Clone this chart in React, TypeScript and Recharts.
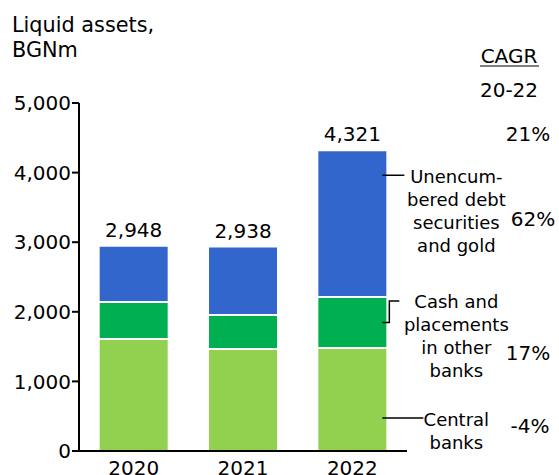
import { BarChart, Bar, XAxis, YAxis, LabelList, Customized } from "recharts";

const YEARS = ["2020", "2021", "2022"];
const CENTRAL_BANKS = [1609, 1466, 1480];
const CASH_PLACEMENTS = [532, 488, 733];
const DEBT_SECURITIES = [807, 984, 2108];
const TOTALS = [2948, 2938, 4321];
const Y_TICKS = [0, 1000, 2000, 3000, 4000, 5000];
const CAGR_LABELS = ["21%", "62%", "17%", "-4%"];
const DEBT_TEXT = ["Unencum-", "bered debt", "securities", "and gold"];
const CASH_TEXT = ["Cash and", "placements", "in other", "banks"];
const CENTRAL_TEXT = ["Central", "banks"];

const FONT = "'DejaVu Sans', Verdana, sans-serif";
const LAST = YEARS.length - 1;

const data = YEARS.map((year, i) => ({
  year,
  central: CENTRAL_BANKS[i],
  cash: CASH_PLACEMENTS[i],
  debt: DEBT_SECURITIES[i],
  total: TOTALS[i],
}));

const fmt = (v: number) => Number(v).toLocaleString("en-US");

function TextBlock({ lines, cx, y }: { lines: string[]; cx: number; y: number }) {
  return (
    <text fontFamily={FONT} fontSize={18} fill="#000" textAnchor="middle">
      {lines.map((l, i) => (
        <tspan key={i} x={cx} y={y + i * 23}>
          {l}
        </tspan>
      ))}
    </text>
  );
}

// callout next to the last bar of a series
function callout(lines: string[], kind: "debt" | "cash" | "central") {
  return (props: any) => {
    if (props.index !== LAST) return null;
    const vb = props.viewBox ?? props;
    const { x, y, width, height } = vb;
    const right = x + width;
    const cx = right + 69;
    if (kind === "cash") {
      const mid = y + height / 2;
      const top = y + 4;
      return (
        <g>
          <path
            d={`M${right - 5},${mid} H${right + 2} V${top} H${right + 12}`}
            stroke="#000"
            strokeWidth={1.5}
            fill="none"
          />
          <TextBlock lines={lines} cx={cx} y={top + 7} />
        </g>
      );
    }
    const ay = kind === "debt" ? y + 25 : y + height - 33;
    const end = kind === "debt" ? right + 17 : right + 36;
    return (
      <g>
        <line x1={right - 5} x2={end} y1={ay} y2={ay} stroke="#000" strokeWidth={1.5} />
        <TextBlock lines={lines} cx={cx} y={ay + 8} />
      </g>
    );
  };
}

function Extras() {
  const pctY = [141, 226, 360, 433];
  const pctX = [528, 533, 528, 530];
  return (
    <g fontFamily={FONT} fill="#000">
      <text x={12} y={32} fontSize={20.8}>
        Liquid assets,
      </text>
      <text x={12} y={57} fontSize={20.8}>
        BGNm
      </text>
      <text x={509} y={63} fontSize={20} textAnchor="middle">
        CAGR
      </text>
      <line x1={480} x2={539} y1={66} y2={66} stroke="#000" strokeWidth={1.2} />
      <text x={509} y={97} fontSize={20} textAnchor="middle">
        20-22
      </text>
      {CAGR_LABELS.map((t, i) => (
        <text key={t} x={pctX[i]} y={pctY[i]} fontSize={20} textAnchor="middle">
          {t}
        </text>
      ))}
    </g>
  );
}

export default function App() {
  return (
    <div style={{ position: "absolute", left: 0, top: 0, width: 559, height: 475, background: "#fff" }}>
      <BarChart
        width={559}
        height={475}
        data={data}
        margin={{ top: 103, right: 152, left: 0, bottom: 0 }}
        barCategoryGap="18%"
      >
        <XAxis
          dataKey="year"
          height={24}
          tickLine={false}
          tickSize={6}
          tickMargin={4}
          axisLine={{ stroke: "#000", strokeWidth: 2 }}
          tick={{ fill: "#000", fontSize: 20, fontFamily: FONT }}
        />
        <YAxis
          width={79}
          domain={[0, 5000]}
          ticks={Y_TICKS}
          tickFormatter={fmt}
          tickSize={7}
          tickMargin={1}
          axisLine={{ stroke: "#000", strokeWidth: 2 }}
          tickLine={{ stroke: "#000", strokeWidth: 2 }}
          tick={{ fill: "#000", fontSize: 20, fontFamily: FONT }}
        />
        <Bar dataKey="central" stackId="a" fill="#92D050" stroke="#fff" strokeWidth={2} isAnimationActive={false}>
          <LabelList dataKey="central" content={callout(CENTRAL_TEXT, "central")} />
        </Bar>
        <Bar dataKey="cash" stackId="a" fill="#00B050" stroke="#fff" strokeWidth={2} isAnimationActive={false}>
          <LabelList dataKey="cash" content={callout(CASH_TEXT, "cash")} />
        </Bar>
        <Bar dataKey="debt" stackId="a" fill="#3366CC" stroke="#fff" strokeWidth={2} isAnimationActive={false}>
          <LabelList dataKey="debt" content={callout(DEBT_TEXT, "debt")} />
          <LabelList
            dataKey="total"
            position="top"
            offset={9}
            formatter={(v: any) => fmt(v)}
            fill="#000"
            fontSize={20}
            fontFamily={FONT}
          />
        </Bar>
        <Customized component={<Extras />} />
      </BarChart>
    </div>
  );
}
